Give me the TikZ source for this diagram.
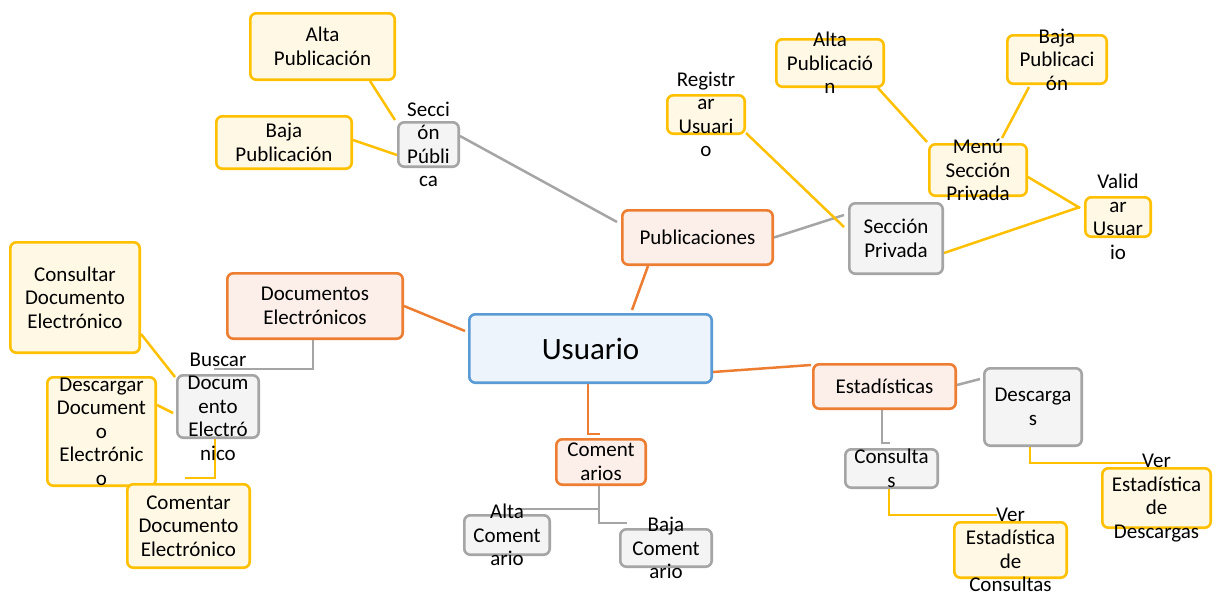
\documentclass[tikz,border=0pt]{standalone}
\usepackage{fontspec}
\setmainfont{Carlito}
\usetikzlibrary{backgrounds,calc}
\definecolor{yb}{HTML}{FFC000}
\definecolor{yf}{HTML}{FFF8E5}
\definecolor{ob}{HTML}{ED7D31}
\definecolor{of}{HTML}{FCEFE9}
\definecolor{gb}{HTML}{A5A5A5}
\definecolor{gf}{HTML}{F4F4F4}
\definecolor{bb}{HTML}{5B9BD5}
\definecolor{bf}{HTML}{EEF4FB}
\begin{document}
\begin{tikzpicture}[x=1pt,y=-1pt,
 box/.style 2 args={rounded corners=6pt, line width=2.6pt, inner sep=0pt, minimum width={#1-2.6}, minimum height={#2-2.6}},
 ybox/.style={draw=yb, fill=yf},
 obox/.style={draw=ob, fill=of},
 gbox/.style={draw=gb, fill=gf},
 ubox/.style={draw=bb, fill=bf},
 tx/.style={font=\fontsize{21}{23.5}\selectfont, align=center, inner sep=0pt, text=black},
 bigtx/.style={font=\fontsize{31}{36}\selectfont, align=center, inner sep=0pt, text=black},
 yl/.style={draw=yb, line width=2.5pt},
 ol/.style={draw=ob, line width=2.5pt},
 gl/.style={draw=gb, line width=2.5pt}
]
\useasboundingbox (0,0) rectangle (1217,597);
% boxes
\node[box={147}{69}, ybox, label={[tx]center:{Alta\\Publicación}}] (altaP1) at (322.5,46.5) {};
\node[box={138}{55}, ybox, label={[tx]center:{Baja\\Publicación}}] (bajaP1) at (284,142.5) {};
\node[box={63}{47}, gbox, label={[tx]center:{Secci\\ón\\Públi\\ca}}] (secPub) at (428.5,144.5) {};
\node[box={153}{57}, obox, label={[tx]center:{Publicaciones}}] (publ) at (697.5,237.5) {};
\node[box={96}{73}, gbox, label={[tx]center:{Sección\\Privada}}] (secPriv) at (896,238.5) {};
\node[box={80}{41}, ybox, label={[tx]center:{Registr\\ar\\Usuari\\o}}] (regU) at (706,114.5) {};
\node[box={110}{50}, ybox, label={[tx]center:{Alta\\Publicació\\n}}] (altaP2) at (830,63) {};
\node[box={102}{51}, ybox, label={[tx]center:{Baja\\Publicaci\\ón}}] (bajaP2) at (1057,59.5) {};
\node[box={100}{54}, ybox, label={[tx]center:{Menú\\Sección\\Privada}}] (menu) at (978,170) {};
\node[box={68}{42}, ybox, label={[tx]center:{Valid\\ar\\Usuar\\io}}] (valid) at (1118,217) {};
\node[box={132}{113}, ybox, label={[tx]center:{Consultar\\Documento\\Electrónico}}] (consD) at (75,297.5) {};
\node[box={178}{68}, obox, label={[tx]center:{Documentos\\Electrónicos}}] (docE) at (315,306) {};
\node[box={84}{65}, gbox, label={[tx]center:{Buscar\\Docum\\ento\\Electró\\nico}}] (busc) at (218,406.5) {};
\node[box={111}{111}, ybox, label={[tx]center:{Descargar\\Document\\o\\Electrónic\\o}}] (descD) at (101.5,431.5) {};
\node[box={125}{86}, ybox, label={[tx]center:{Comentar\\Documento\\Electrónico}}] (comD) at (188.5,526) {};
\node[box={245}{71}, ubox, label={[bigtx]center:{Usuario}}] (usu) at (590.5,348.5) {};
\node[box={92}{48}, obox, label={[tx]center:{Coment\\arios}}] (coms) at (601,462) {};
\node[box={88}{42}, gbox, label={[tx]center:{Alta\\Coment\\ario}}] (altaC) at (507,535) {};
\node[box={94}{40}, gbox, label={[tx]center:{Baja\\Coment\\ario}}] (bajaC) at (666,548) {};
\node[box={145}{47}, obox, label={[tx]center:{Estadísticas}}] (esta) at (884.5,386.5) {};
\node[box={100}{80}, gbox, label={[tx]center:{Descarga\\s}}] (desc) at (1033,407) {};
\node[box={95}{41}, gbox, label={[tx]center:{Consulta\\s}}] (cons) at (891.5,468.5) {};
\node[box={115}{58}, ybox, label={[tx]center:{Ver\\Estadística\\de\\Consultas}}] (vec) at (1010.5,550) {};
\node[box={111}{62}, ybox, label={[tx]center:{Ver\\Estadística\\de\\Descargas}}] (ved) at (1156.5,498) {};
% connectors
\begin{scope}[on background layer]
\fill[white] (0,0) rectangle (1217,597);
\draw[yl] ([xshift=47.5]altaP1.south) -- ([xshift=-2,yshift=1]secPub.north west);
\draw[yl] ([yshift=2.5]bajaP1.east) -- ([yshift=-10.5]secPub.west);
\draw[gl] ([yshift=8.5]secPub.east) -- ([xshift=-4,yshift=15.5]publ.west);
\draw[ol] ([xshift=-49.5]publ.south) -- ([xshift=41.5,yshift=3]usu.north);
\draw[gl] (publ.east) -- ([xshift=-4,yshift=23.5]secPriv.west);
\draw[yl] ([yshift=2]regU.south east) -- ([xshift=-4,yshift=11.5]secPriv.west);
\draw[yl] ([xshift=48]altaP2.south) -- ([xshift=-1,yshift=1]menu.north west);
\draw[yl] ([xshift=-28,yshift=-2]bajaP2.south) -- ([xshift=24,yshift=5]menu.north);
\draw[yl] ([yshift=-7]menu.east) -- ([xshift=-4,yshift=9]valid.west);
\draw[yl] ([yshift=-14.5]secPriv.east) -- ([xshift=-4,yshift=10]valid.west);
\draw[ol] (docE.east) -- ([xshift=-3,yshift=17.5]usu.west);
\draw[gl] ([xshift=-2]docE.south) |- ([xshift=-4,yshift=5]busc.north);
\draw[yl] ([yshift=-36.5]consD.east) -- ([xshift=-1,yshift=-3]busc.north west);
\draw[yl] ([yshift=26.5]descD.east) -- ([xshift=-3,yshift=-6.5]busc.west);
\draw[yl] ([xshift=-3]busc.south) |- ([xshift=-3.5,yshift=5]comD.north);
\draw[ol] ([xshift=-2.5]usu.south) |- ([xshift=-1,yshift=4]coms.north);
\draw[gl] ([xshift=-2]coms.south) |- ([xshift=11,yshift=5]altaC.north);
\draw[gl] ([xshift=-2]coms.south) |- ([xshift=-39,yshift=5]bajaC.north);
\draw[ol] ([yshift=-23.5]usu.east) -- ([xshift=-1,yshift=21.5]esta.west);
\draw[gl] ([yshift=1.5]esta.east) -- ([xshift=-3,yshift=28]desc.west);
\draw[gl] ([xshift=-2.5]esta.south) |- ([xshift=-1.5,yshift=5]cons.north);
\draw[yl] ([xshift=-2.5]cons.south) |- ([xshift=-13.5,yshift=6]vec.north);
\draw[yl] ([xshift=-3]desc.south) |- ([xshift=-9.5,yshift=4]ved.north);
\end{scope}
\end{tikzpicture}
\end{document}
